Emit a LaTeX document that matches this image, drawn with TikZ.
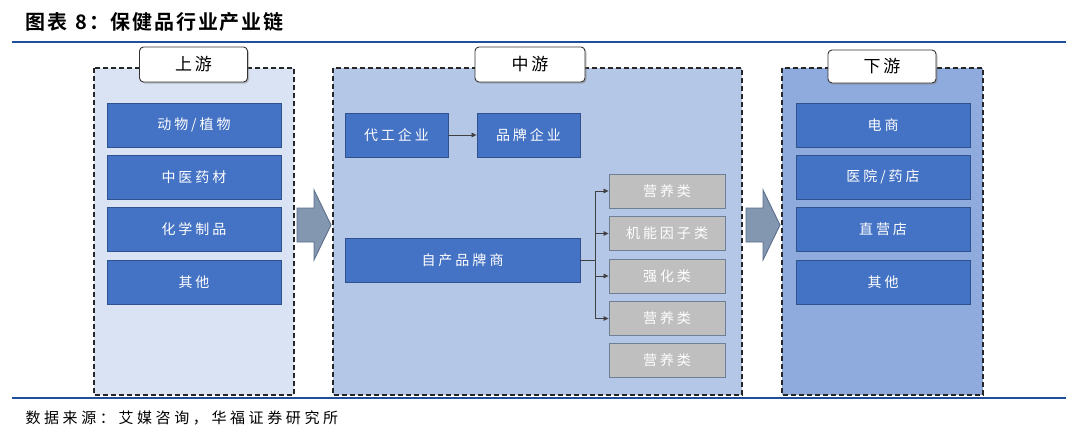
\documentclass[tikz,border=0pt]{standalone}
\usepackage{fontspec}
\setmainfont{Noto Sans CJK SC}
\newfontfamily\cjk{Noto Sans CJK SC}
\newfontfamily\cjkb{Noto Sans CJK SC Bold}
\usetikzlibrary{shadows,arrows.meta}
\makeatletter
\newcommand\spc[2]{\def\sp@gap{#1}\@tfor\sp@c:=#2\do{\sp@c\hspace{\sp@gap}}\unskip}
\makeatother
\definecolor{rule}{HTML}{1F4E9A}
\definecolor{paneA}{HTML}{DAE3F3}
\definecolor{paneB}{HTML}{B4C7E7}
\definecolor{paneC}{HTML}{8FAADC}
\definecolor{boxblue}{HTML}{4472C4}
\definecolor{boxedge}{HTML}{2F528F}
\definecolor{graybox}{HTML}{BFBFBF}
\definecolor{grayedge}{HTML}{6F7F95}
\definecolor{bigarrow}{HTML}{8497B0}
\definecolor{bigarrowedge}{HTML}{5B6E8C}
\begin{document}
\begin{tikzpicture}[x=1pt,y=-1pt,
  pane/.style={draw=black!85,line width=1.5pt,dash pattern=on 5pt off 3pt},
  tab/.style={draw=black!80,line width=0.9pt,fill=white,rounded corners=4pt,
    drop shadow={shadow xshift=1.5pt,shadow yshift=-1.5pt,opacity=0.45},
    font=\cjk\fontsize{17}{19}\selectfont},
  bluebox/.style={draw=boxedge,line width=0.9pt,fill=boxblue,text=white,
    font=\cjk\fontsize{14}{16}\selectfont},
  graybx/.style={draw=grayedge,line width=0.9pt,fill=graybox,text=white,
    font=\cjk\fontsize{14}{16}\selectfont},
  link/.style={draw=black!75,line width=0.7pt,-{Triangle[length=5pt,width=4.5pt]}},
  blockarrow/.style={draw=bigarrowedge,line width=0.9pt,fill=bigarrow}
]
\useasboundingbox (0,0) rectangle (1080,440);
% title and rules
\node[anchor=west,font=\cjkb\fontsize{20}{22}\selectfont] (title) at (22,22) {\spc{1.8pt}{图表{\ }8：保健品行业产业链}};
\draw[rule,line width=1.6pt] (12,42) -- (1066,42);
\draw[rule,line width=1.6pt] (12,398) -- (1066,398);
\node[anchor=west,font=\cjk\fontsize{15}{17}\selectfont] (source) at (22,418) {\spc{3.6pt}{数据来源：艾媒咨询，华福证券研究所}};

% panes
\path[pane,fill=paneA] (94,68) rectangle (294,395);
\path[pane,fill=paneB] (333,68) rectangle (742,395);
\path[pane,fill=paneC] (782,68) rectangle (983,395);

% tabs
\node[tab,minimum width=108pt,minimum height=35pt] (up) at (193.5,64.5) {\spc{3pt}{上游}};
\node[tab,minimum width=110pt,minimum height=35pt] (mid) at (530,64.5) {\spc{3pt}{中游}};
\node[tab,minimum width=108pt,minimum height=33pt] (down) at (882,66.5) {\spc{3pt}{下游}};

% upstream
\node[bluebox,minimum width=174pt,minimum height=44pt] (u1) at (194,125) {\spc{3pt}{动物/植物}};
\node[bluebox,minimum width=174pt,minimum height=44pt] (u2) at (194,177) {\spc{3pt}{中医药材}};
\node[bluebox,minimum width=174pt,minimum height=44pt] (u3) at (194,229) {\spc{3pt}{化学制品}};
\node[bluebox,minimum width=174pt,minimum height=44pt] (u4) at (194,282) {\spc{3pt}{其他}};

% downstream
\node[bluebox,minimum width=174pt,minimum height=44pt] (d1) at (883,125) {\spc{3pt}{电商}};
\node[bluebox,minimum width=174pt,minimum height=44pt] (d2) at (883,177) {\spc{3pt}{医院/药店}};
\node[bluebox,minimum width=174pt,minimum height=44pt] (d3) at (883,229) {\spc{3pt}{直营店}};
\node[bluebox,minimum width=174pt,minimum height=44pt] (d4) at (883,282) {\spc{3pt}{其他}};

% midstream
\node[bluebox,minimum width=103pt,minimum height=44pt] (oem) at (396.5,135) {\spc{3pt}{代工企业}};
\node[bluebox,minimum width=103pt,minimum height=44pt] (brand) at (528.5,135) {\spc{3pt}{品牌企业}};
\node[bluebox,minimum width=235pt,minimum height=44pt] (self) at (462.5,260) {\spc{3pt}{自产品牌商}};
\node[graybx,minimum width=116pt,minimum height=34pt] (g1) at (667,191) {\spc{3pt}{营养类}};
\node[graybx,minimum width=116pt,minimum height=34pt] (g2) at (667,233.5) {\spc{3pt}{机能因子类}};
\node[graybx,minimum width=116pt,minimum height=34pt] (g3) at (667,276) {\spc{3pt}{强化类}};
\node[graybx,minimum width=116pt,minimum height=34pt] (g4) at (667,318.5) {\spc{3pt}{营养类}};
\node[graybx,minimum width=116pt,minimum height=34pt] (g5) at (667,360.5) {\spc{3pt}{营养类}};

\draw[link] (oem) -- (brand);
\coordinate (fork) at (595,260);
\draw[draw=black!75,line width=0.7pt] (self.east) -- (fork);
\foreach \g in {g1,g2,g3,g4}{
  \draw[link] (fork) |- (\g.west);
}

% block arrows
\path[blockarrow] (297,208) -- (314,208) -- (314,190) -- (331,225) -- (314,260) -- (314,242) -- (297,242) -- cycle;
\path[blockarrow] (746,208) -- (763,208) -- (763,190) -- (780,225) -- (763,260) -- (763,242) -- (746,242) -- cycle;
\end{tikzpicture}
\end{document}
